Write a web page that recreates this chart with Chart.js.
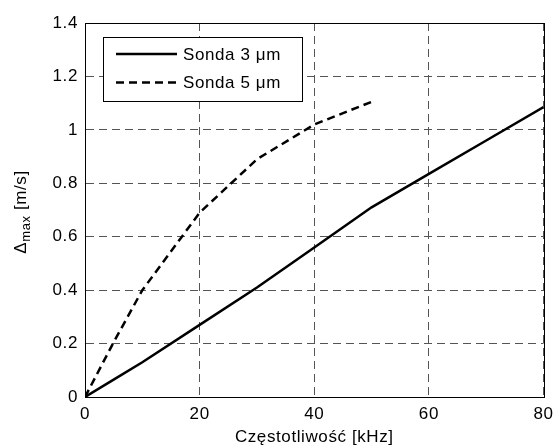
<!DOCTYPE html>
<html>
<head>
<meta charset="utf-8">
<script src="https://cdn.jsdelivr.net/npm/chart.js@4"></script>
<style>
  html, body { margin: 0; padding: 0; background: #fff; }
  canvas { display: block; }
</style>
</head>
<body>
<canvas id="wykres" width="560" height="448"></canvas>
<script>
// dane
const freq3 = [0, 5, 10, 20, 30, 40, 50, 60, 70, 80];
const sonda3 = [0, 0.065, 0.13, 0.27, 0.41, 0.56, 0.71, 0.835, 0.96, 1.085];
const freq5 = [0, 5, 10, 20, 30, 40, 50];
const sonda5 = [0, 0.205, 0.40, 0.69, 0.89, 1.02, 1.105];
const seriesNames = ['Sonda 3 μm', 'Sonda 5 μm'];
const xTitle = 'Częstotliwość [kHz]';

const FONT = 'Liberation Sans, Arial, sans-serif';
const SPACING = '0.6px';

// ramka, legenda i opis osi y (z indeksem dolnym)
const extras = {
    id: 'extras',
    beforeDraw(chart) {
        chart.ctx.letterSpacing = SPACING;
    },
    afterDraw(chart) {
        const ctx = chart.ctx;
        const a = chart.chartArea;
        ctx.save();
        ctx.letterSpacing = SPACING;
        ctx.strokeStyle = '#000';
        ctx.lineWidth = 1;
        ctx.strokeRect(Math.round(a.left) + 0.5, Math.round(a.top) + 0.5,
            Math.round(a.right - a.left), Math.round(a.bottom - a.top));

        // legenda
        const lx = 103, ly = 37, lw = 199, lh = 64;
        ctx.fillStyle = '#fff';
        ctx.fillRect(lx, ly, lw, lh);
        ctx.strokeRect(lx + 0.5, ly + 0.5, lw, lh);
        ctx.font = '17px ' + FONT;
        ctx.textBaseline = 'middle';
        ctx.textAlign = 'left';
        chart.data.datasets.forEach((ds, i) => {
            const y = ly + 17 + i * 28.5;
            ctx.beginPath();
            ctx.setLineDash(ds.borderDash || []);
            ctx.lineWidth = 2.5;
            ctx.strokeStyle = '#000';
            ctx.moveTo(116, y);
            ctx.lineTo(177, y);
            ctx.stroke();
            ctx.setLineDash([]);
            ctx.fillStyle = '#000';
            ctx.fillText(ds.label, 183, y + 1);
        });

        // opis osi y: Δmax [m/s]
        ctx.translate(21, (a.top + a.bottom) / 2 + 2);
        ctx.rotate(-Math.PI / 2);
        ctx.textBaseline = 'middle';
        const big = '17px ' + FONT, small = '13px ' + FONT;
        ctx.font = big;
        const w1 = ctx.measureText('Δ').width;
        const w3 = ctx.measureText(' [m/s]').width;
        ctx.font = small;
        const w2 = ctx.measureText('max').width;
        let x = -(w1 + w2 + w3) / 2;
        ctx.font = big;
        ctx.fillText('Δ', x, 0);
        x += w1;
        ctx.font = small;
        ctx.fillText('max', x, 5);
        x += w2;
        ctx.font = big;
        ctx.fillText(' [m/s]', x, 0);
        ctx.restore();
    }
};

new Chart(document.getElementById('wykres'), {
    type: 'line',
    data: {
        datasets: [{
            label: seriesNames[0],
            data: freq3.map((f, i) => ({ x: f, y: sonda3[i] })),
            borderColor: '#000',
            borderWidth: 2.5,
            pointRadius: 0,
            tension: 0,
            fill: false
        }, {
            label: seriesNames[1],
            data: freq5.map((f, i) => ({ x: f, y: sonda5[i] })),
            borderColor: '#000',
            borderWidth: 2.5,
            borderDash: [8, 5],
            pointRadius: 0,
            tension: 0,
            fill: false
        }]
    },
    options: {
        responsive: false,
        animation: false,
        layout: { padding: { top: 23, right: 11, left: 0, bottom: 0 } },
        plugins: {
            legend: { display: false },
            tooltip: { enabled: false }
        },
        scales: {
            x: {
                type: 'linear',
                min: 0,
                max: 80,
                ticks: {
                    stepSize: 20,
                    color: '#000',
                    padding: 7,
                    maxRotation: 0,
                    font: { family: FONT, size: 17 }
                },
                grid: { color: '#555', lineWidth: 1, drawTicks: false },
                border: { color: '#000', width: 1, dash: [8, 5] },
                title: {
                    display: true,
                    text: xTitle,
                    color: '#000',
                    padding: 0,
                    font: { family: FONT, size: 17 }
                },
                afterFit(scale) { scale.height = 51; }
            },
            y: {
                min: 0,
                max: 1.4,
                ticks: {
                    stepSize: 0.2,
                    color: '#000',
                    padding: 7,
                    font: { family: FONT, size: 17 },
                    callback: v => String(Math.round(v * 10) / 10)
                },
                grid: { color: '#555', lineWidth: 1, drawTicks: false },
                border: { color: '#000', width: 1, dash: [8, 5] },
                afterFit(scale) { scale.width = 85; }
            }
        }
    },
    plugins: [extras]
});
</script>
</body>
</html>
